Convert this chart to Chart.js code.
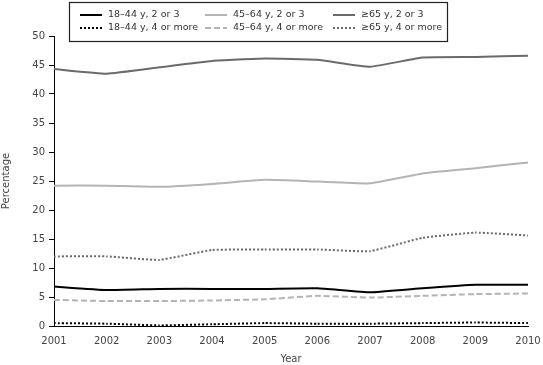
<!DOCTYPE html>
<html>
<head>
<meta charset="utf-8">
<script src="https://cdn.jsdelivr.net/npm/chart.js@4/dist/chart.umd.min.js"></script>
<style>
  html, body { margin: 0; padding: 0; background: #fff; }
  #wrap { position: relative; width: 543px; height: 365px; }
</style>
</head>
<body>
<div id="wrap"><canvas id="chart"></canvas></div>
<script>
const YEARS = ['2001','2002','2003','2004','2005','2006','2007','2008','2009','2010'];

const AGE18_2OR3 = [6.8, 6.2, 6.4, 6.4, 6.4, 6.5, 5.8, 6.5, 7.1, 7.1];
const AGE45_2OR3 = [24.2, 24.2, 24.0, 24.5, 25.2, 24.9, 24.6, 26.3, 27.2, 28.2];
const AGE65_2OR3 = [44.3, 43.5, 44.6, 45.7, 46.1, 45.9, 44.7, 46.3, 46.4, 46.6];
const AGE18_4PLUS = [0.5, 0.4, 0.1, 0.3, 0.5, 0.4, 0.4, 0.5, 0.6, 0.5];
const AGE45_4PLUS = [4.5, 4.3, 4.3, 4.4, 4.6, 5.2, 4.9, 5.2, 5.5, 5.6];
const AGE65_4PLUS = [12.0, 12.0, 11.4, 13.1, 13.2, 13.2, 12.9, 15.2, 16.1, 15.6];

const Y_TICKS = [0, 5, 10, 15, 20, 25, 30, 35, 40, 45, 50];

const FONT = 'DejaVu Sans, Verdana, sans-serif';
const BLACK = '#000000', LIGHT = '#b4b4b4', DARK = '#6a6a6a';

function series(label, data, color, dash) {
  return {
    label, data,
    borderColor: color, backgroundColor: color,
    borderWidth: 2, borderDash: dash,
    pointRadius: 0, tension: 0.12, fill: false
  };
}

// legend order: row 1 then row 2, three columns
const datasets = [
  series('18–44 y, 2 or 3', AGE18_2OR3, BLACK, []),
  series('45–64 y, 2 or 3', AGE45_2OR3, LIGHT, []),
  series('≥65 y, 2 or 3', AGE65_2OR3, DARK, []),
  series('18–44 y, 4 or more', AGE18_4PLUS, BLACK, [2, 2]),
  series('45–64 y, 4 or more', AGE45_4PLUS, LIGHT, [6, 3]),
  series('≥65 y, 4 or more', AGE65_4PLUS, DARK, [2, 2]),
];

// Boxed two-row legend drawn on top of the canvas
const boxLegend = {
  id: 'boxLegend',
  afterDraw(chart) {
    const ctx = chart.ctx;
    ctx.save();
    ctx.fillStyle = '#fff';
    ctx.fillRect(69.5, 2.5, 378, 39);
    ctx.strokeStyle = '#222';
    ctx.lineWidth = 1.2;
    ctx.strokeRect(69.5, 2.5, 378, 39);
    const colX = [80, 205, 333];
    const rowY = [15, 28];
    ctx.font = '9.5px ' + FONT;
    ctx.textBaseline = 'middle';
    chart.data.datasets.forEach((ds, i) => {
      const x = colX[i % 3], y = rowY[Math.floor(i / 3)];
      ctx.beginPath();
      ctx.setLineDash(ds.borderDash);
      ctx.strokeStyle = ds.borderColor;
      ctx.lineWidth = 2;
      ctx.moveTo(x, y);
      ctx.lineTo(x + 22, y);
      ctx.stroke();
      ctx.setLineDash([]);
      ctx.fillStyle = '#333';
      ctx.fillText(ds.label, x + 28, y);
    });
    ctx.restore();
  }
};

new Chart(document.getElementById('chart'), {
  type: 'line',
  data: { labels: YEARS, datasets },
  plugins: [boxLegend],
  options: {
    responsive: true,
    maintainAspectRatio: false,
    animation: false,
    layout: { padding: { top: 36, right: 15, left: 0, bottom: 0 } },
    plugins: { legend: { display: false }, tooltip: { enabled: false } },
    scales: {
      x: {
        offset: false,
        grid: { display: false },
        border: { display: true, color: '#000', width: 1 },
        ticks: { color: '#444', font: { family: FONT, size: 10 }, maxRotation: 0, padding: 1 },
        title: { display: true, text: 'Year', color: '#444', font: { family: FONT, size: 10 }, padding: { top: 8, bottom: 0 } },
        afterFit: (scale) => { scale.height = 39; }
      },
      y: {
        min: 0, max: 50,
        afterBuildTicks: (scale) => { scale.ticks = Y_TICKS.map(v => ({ value: v })); },
        grid: { drawOnChartArea: false, drawTicks: true, tickLength: 5, color: '#000' },
        border: { display: true, color: '#000', width: 1 },
        ticks: { color: '#444', font: { family: FONT, size: 10 }, padding: 4 },
        title: { display: true, text: 'Percentage', color: '#444', font: { family: FONT, size: 10 }, padding: { top: 0, bottom: 12 } },
        afterFit: (scale) => { scale.width = 54; }
      }
    }
  }
});
</script>
</body>
</html>
